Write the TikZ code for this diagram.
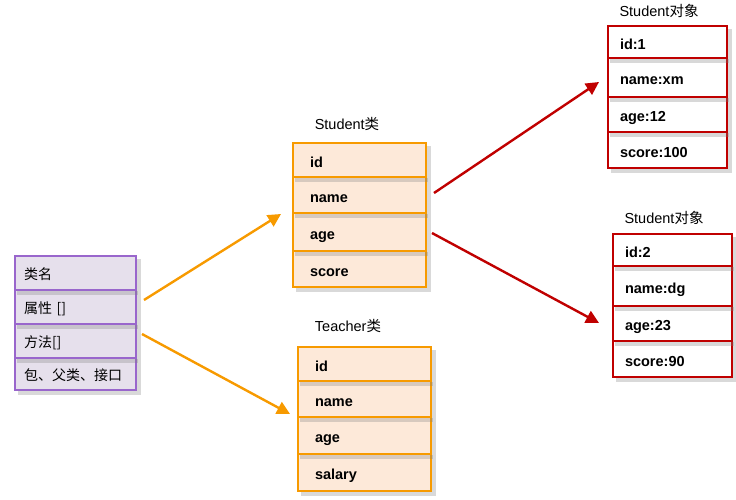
\documentclass[tikz,border=0pt]{standalone}
\usepackage{fontspec}
\setmainfont{Liberation Sans}
\newfontfamily\cjk{Noto Sans CJK SC}
\usetikzlibrary{arrows.meta}
\definecolor{purp}{HTML}{9966CC}
\definecolor{lav}{HTML}{E6E0EC}
\definecolor{org}{HTML}{F79A00}
\definecolor{peach}{HTML}{FDE9D9}
\definecolor{dred}{HTML}{C00000}
\begin{document}
\begin{tikzpicture}[x=1pt,y=-1pt,
  rowbase/.style={draw, line width=2pt, anchor=north west, align=left,
    font=\fontsize{14.5}{16}\selectfont\bfseries, inner ysep=0pt, text height=14pt, text depth=0pt},
  urow/.style={rowbase, draw=purp, fill=lav, minimum width=121pt, inner xsep=9pt, text width=103pt, font=\fontsize{14}{16}\selectfont\cjk, text height=12pt},
  crow/.style={rowbase, draw=org, fill=peach, minimum width=133pt, inner xsep=17pt, text width=99pt},
  orow/.style={rowbase, draw=dred, fill=white, minimum width=119pt, inner xsep=12pt, text width=95pt},
  ttl/.style={font=\fontsize{14.5}{16}\selectfont, inner sep=0pt},
  shd/.style={draw=black!50, opacity=0.3, line width=3.5pt},
  oarrow/.style={draw=org, line width=2.4pt, -{Triangle[length=13pt,width=13pt]}},
  rarrow/.style={draw=dred, line width=2.4pt, -{Triangle[length=13pt,width=13pt]}}]
\useasboundingbox (0,0) rectangle (736,499);

% left class template box
\node[urow, minimum height=34pt] (u1) at (14,255) {类名};
\node[urow, minimum height=34pt] (u2) at (14,289) {属性 []};
\node[urow, minimum height=34pt] (u3) at (14,323) {方法[]};
\node[urow, minimum height=32pt] (u4) at (14,357) {包、父类、接口};
\foreach \y in {293,327,361} \draw[shd] (17,\y) -- (138,\y);
\draw[shd] (18,393) -- (139,393) -- (139,259);

% Student class
\node[ttl] (stitle) at (347,124) {Student\cjk 类};
\node[crow, minimum height=34pt] (s1) at (292,142) {id};
\node[crow, minimum height=36pt] (s2) at (292,176) {name};
\node[crow, minimum height=38pt] (s3) at (292,212) {age};
\node[crow, minimum height=36pt] (s4) at (292,250) {score};
\foreach \y in {180,216,254} \draw[shd] (295,\y) -- (428,\y);
\draw[shd] (296,290) -- (429,290) -- (429,146);

% Teacher class
\node[ttl] (ttitle) at (348,326) {Teacher\cjk 类};
\node[crow, minimum height=34pt] (t1) at (297,346) {id};
\node[crow, minimum height=36pt] (t2) at (297,380) {name};
\node[crow, minimum height=37pt] (t3) at (297,416) {age};
\node[crow, minimum height=37pt] (t4) at (297,453) {salary};
\foreach \y in {384,420,457} \draw[shd] (300,\y) -- (433,\y);
\draw[shd] (301,494) -- (434,494) -- (434,350);

% Student object 1
\node[ttl] (o1title) at (659,11) {Student\cjk 对象};
\node[orow, minimum height=32pt] (a1) at (607,25) {id:1};
\node[orow, minimum height=39pt] (a2) at (607,57) {name:xm};
\node[orow, minimum height=35pt] (a3) at (607,96) {age:12};
\node[orow, minimum height=36pt] (a4) at (607,131) {score:100};
\foreach \y in {61,100,135} \draw[shd] (610,\y) -- (729,\y);
\draw[shd] (611,171) -- (730,171) -- (730,29);

% Student object 2
\node[ttl] (o2title) at (664,218) {Student\cjk 对象};
\node[orow, minimum height=32pt] (b1) at (612,233) {id:2};
\node[orow, minimum height=40pt] (b2) at (612,265) {name:dg};
\node[orow, minimum height=35pt] (b3) at (612,305) {age:23};
\node[orow, minimum height=36pt] (b4) at (612,340) {score:90};
\foreach \y in {269,309,344} \draw[shd] (615,\y) -- (734,\y);
\draw[shd] (616,380) -- (735,380) -- (735,237);

% connector end points
\coordinate (c1s) at (144,300);
\coordinate (c1e) at (281,214);
\coordinate (c2s) at (142,334);
\coordinate (c2e) at (290,414);
\coordinate (c3s) at (434,193);
\coordinate (c3e) at (599,82);
\coordinate (c4s) at (432,233);
\coordinate (c4e) at (599,323);

\draw[oarrow] (c1s) -- (c1e);
\draw[oarrow] (c2s) -- (c2e);
\draw[rarrow] (c3s) -- (c3e);
\draw[rarrow] (c4s) -- (c4e);
\end{tikzpicture}
\end{document}
